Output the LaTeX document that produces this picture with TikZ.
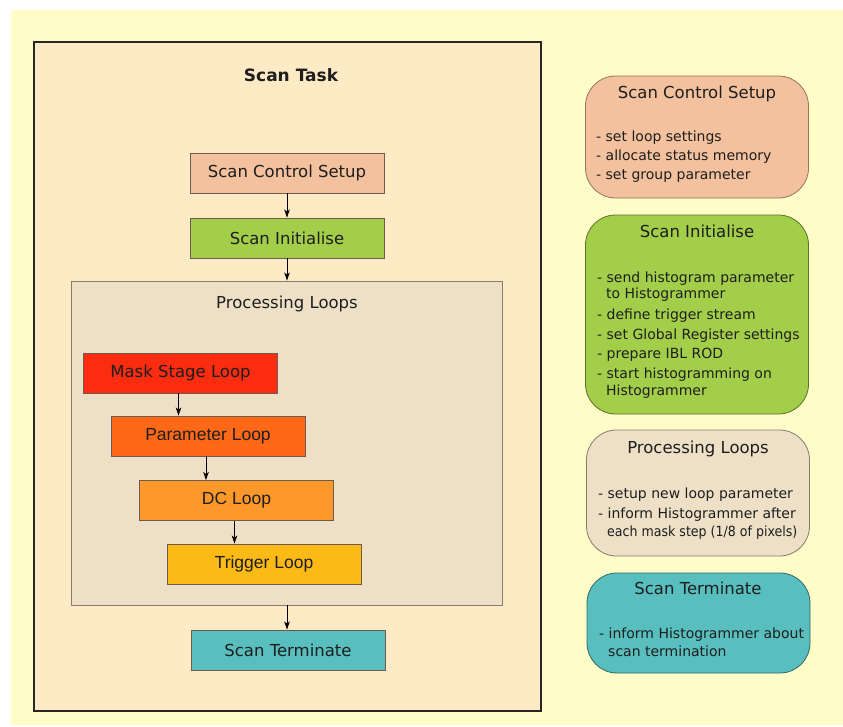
\documentclass[tikz,border=0pt]{standalone}
\usepackage{fontspec}
\usepackage{graphicx}
\setmainfont{DejaVu Sans}
\newfontfamily\arialfont{Liberation Sans}
\usetikzlibrary{arrows.meta}
\definecolor{bgyellow}{RGB}{255,252,200}
\definecolor{taskfill}{RGB}{255,234,198}
\definecolor{loopfill}{RGB}{238,224,198}
\definecolor{setupfill}{RGB}{243,193,157}
\definecolor{initfill}{RGB}{163,206,74}
\definecolor{maskfill}{RGB}{252,44,16}
\definecolor{paramfill}{RGB}{255,104,22}
\definecolor{dcfill}{RGB}{255,152,42}
\definecolor{trigfill}{RGB}{252,186,22}
\definecolor{termfill}{RGB}{88,190,190}
\definecolor{boxline}{RGB}{110,90,80}
\definecolor{txt}{RGB}{30,30,30}
\tikzset{
  stepbox/.style={draw=boxline, line width=0.9pt, minimum width=194pt, minimum height=40pt, inner sep=0pt, text=txt, font=\fontsize{16.5}{18}\selectfont},
  armbox/.style={stepbox, font=\arialfont\fontsize{17.5}{19}\selectfont},
  infobox/.style={rounded corners=30pt, line width=0.8pt, minimum width=223pt, inner sep=0pt},
  infotitle/.style={anchor=base, text=txt, font=\fontsize{16.5}{18}\selectfont, inner sep=0pt},
  infoline/.style={anchor=base west, text=txt, font=\fontsize{14}{16}\selectfont, inner sep=0pt},
  arr/.style={-{Stealth[length=8pt,width=5.5pt,inset=2pt]}, line width=0.8pt, black}
}
\begin{document}
\begin{tikzpicture}[x=1pt,y=-1pt]
\useasboundingbox (0,0) rectangle (843,726);
\fill[white] (0,0) rectangle (843,726);
\fill[bgyellow] (11,10) rectangle (843,725);
% main task box
\draw[fill=taskfill, draw=black!85, line width=1.1pt] (34,42) rectangle (541,711);
\node[font=\bfseries\fontsize{17}{19}\selectfont, text=txt, anchor=base, inner sep=0pt] (title) at (291,81) {Scan Task};
\node[stepbox, fill=setupfill] (setup) at (287,173) {Scan Control Setup};
\node[stepbox, fill=initfill] (init) at (287,238) {Scan Initialise};
\node[draw=boxline!80, line width=0.9pt, fill=loopfill, minimum width=431pt, minimum height=324pt, inner sep=0pt] (loops) at (286.5,443) {};
\node[font=\fontsize{16.5}{18}\selectfont, text=txt, anchor=base, inner sep=0pt] (loopstitle) at (287,308) {Processing Loops};
\node[stepbox, fill=maskfill] (mask) at (180.5,373) {Mask Stage Loop};
\node[armbox, fill=paramfill] (param) at (208,436) {Parameter Loop};
\node[armbox, fill=dcfill] (dc) at (236.5,500.5) {DC Loop};
\node[armbox, fill=trigfill] (trig) at (264,564) {Trigger Loop};
\node[stepbox, fill=termfill] (term) at (288,650) {Scan Terminate};
\draw[arr] (setup.south) -- (setup.south |- init.north);
\draw[arr] (init.south) -- (init.south |- loops.north);
\draw[arr] ([xshift=-2pt]mask.south) -- ([xshift=-2pt]mask.south |- param.north);
\draw[arr] ([xshift=-2pt]param.south) -- ([xshift=-2pt]param.south |- dc.north);
\draw[arr] ([xshift=-2pt]dc.south) -- ([xshift=-2pt]dc.south |- trig.north);
\draw[arr] (loops.south -| setup.south) -- (term.north -| setup.south);
% right info boxes
\node[infobox, fill=setupfill, draw=setupfill!60!black, minimum height=122pt] (r1) at (697,137) {};
\node[infotitle] (r1t) at (697,98) {Scan Control Setup};
\node[infoline] (r1a) at (596,141) {- set loop settings};
\node[infoline] (r1b) at (596,160) {- allocate status memory};
\node[infoline] (r1c) at (596,179) {- set group parameter};

\node[infobox, fill=initfill, draw=initfill!55!black, minimum height=199pt] (r2) at (697,314.5) {};
\node[infotitle] (r2t) at (697,237) {Scan Initialise};
\node[infoline] (r2a) at (597,282) {- send histogram parameter};
\node[infoline] (r2b) at (606,298) {to Histogrammer};
\node[infoline] (r2c) at (597,319) {- define trigger stream};
\node[infoline] (r2d) at (597,339) {- set Global Register settings};
\node[infoline] (r2e) at (597,358) {- prepare IBL ROD};
\node[infoline] (r2f) at (597,378) {- start histogramming on};
\node[infoline] (r2g) at (606,395) {Histogrammer};

\node[infobox, fill=loopfill, draw=loopfill!55!black, minimum height=126pt] (r3) at (698,493) {};
\node[infotitle] (r3t) at (698,453) {Processing Loops};
\node[infoline] (r3a) at (598,498) {- setup new loop parameter};
\node[infoline] (r3b) at (598,518) {- inform Histogrammer after};
\node[infoline] (r3c) at (607,536) {\scalebox{0.9}[1]{each mask step (1/8 of pixels)}};

\node[infobox, fill=termfill, draw=termfill!55!black, minimum height=100pt] (r4) at (698.5,623) {};
\node[infotitle] (r4t) at (698,594) {Scan Terminate};
\node[infoline] (r4a) at (599,638) {- inform Histogrammer about};
\node[infoline] (r4b) at (608,656) {scan termination};
\end{tikzpicture}
\end{document}
